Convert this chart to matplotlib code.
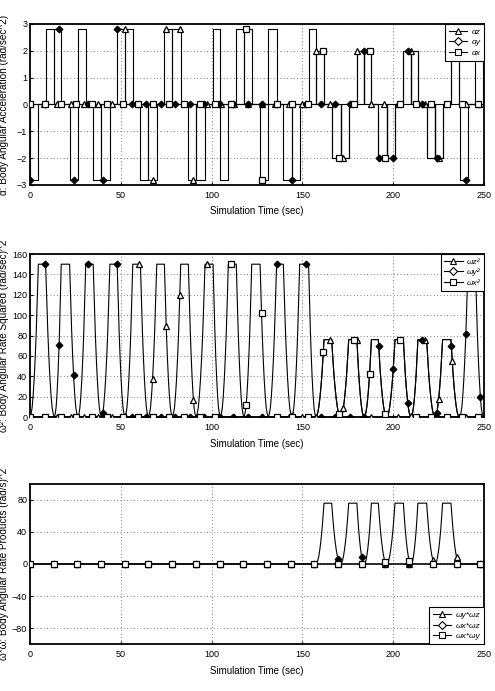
import matplotlib
matplotlib.use("Agg")
import matplotlib.pyplot as plt
import numpy as np
from matplotlib.lines import Line2D

plt.rcParams["font.family"] = ["Liberation Sans", "DejaVu Sans"]

# slew maneuvers (sec): start, end of accel, start of decel, end
MAN_START = [0.0, 13.4, 26.4, 39.3, 52.3, 65.2, 78.4, 91.4, 104.8, 117.8,
             131.2, 144.2, 157.4, 171.0, 184.0, 196.4, 209.8, 223.0, 236.6]
MAN_ACC_END = [4.6, 17.2, 30.7, 44.0, 56.6, 69.8, 83.0, 96.4, 109.2, 122.1,
               135.8, 148.5, 161.9, 175.5, 188.0, 201.0, 213.6, 227.2, 241.2]
MAN_DEC_START = [8.6, 21.8, 34.8, 48.0, 60.8, 74.0, 87.2, 100.8, 113.6, 126.7,
                 139.5, 153.4, 166.1, 180.0, 191.8, 205.6, 218.4, 231.8, 245.2]
MAN_END = [13.4, 26.4, 39.3, 52.3, 65.2, 78.4, 91.4, 104.8, 117.8, 131.2,
           144.2, 157.4, 171.0, 184.0, 196.4, 209.8, 223.0, 236.4, 249.6]
MAN_AXES = ["y", "y", "y", "y", "z", "z", "z", "z", "x", "x",
            "y", "y", "xz", "xz", "xy", "xy", "yz", "yz", "y"]
MAN_SIGN = [-1, 1, 1, -1, 1, -1, 1, -1, -1, 1, 1, -1, 1, -1, 1, -1, 1, -1, -1]
ACC_LEVEL = [2.8, 2.8, 2.8, 2.8, 2.8, 2.8, 2.8, 2.8, 2.8, 2.8,
             2.8, 2.8, 2.0, 2.0, 2.0, 2.0, 2.0, 2.0, 2.8]
RATE_SQ_PEAK = [150, 150, 150, 150, 150, 150, 150, 150, 150, 150,
                150, 150, 76, 76, 76, 76, 76, 76, 150]
PRODUCT_PEAK = [0, 0, 0, 0, 0, 0, 0, 0, 0, 0, 0, 0, 76, 76, 76, 76, 76, 76, 0]

# shape of the rate-squared ramps
RAMP_FRAC = [0.0, 0.125, 0.25, 0.375, 0.5, 0.625, 0.75, 0.875, 1.0]
RAMP_SHAPE = [0.0, 0.02, 0.06, 0.14, 0.25, 0.39, 0.56, 0.77, 1.0]

T_END = 250.0
AXIS_ORDER = ["z", "y", "x"]
MARKERS = {"z": "^", "y": "D", "x": "s"}
MARKER_FACE = {"z": "white", "y": "black", "x": "white"}
MARK_STEP = {"z": 7.5, "y": 8.0, "x": 8.5}
PRODUCT_PAIRS = ["yz", "xz", "xy"]
PRODUCT_MARKER = {"yz": "z", "xz": "y", "xy": "x"}
PRODUCT_MARK_STEP = 13.05

ACC_LABELS = ["αz", "αy", "αx"]
RATE_SQ_LABELS = ["ωz²", "ωy²", "ωx²"]
PRODUCT_LABELS = ["ωy*ωz", "ωx*ωz", "ωx*ωy"]
X_TICKS = [0, 50, 100, 150, 200, 250]


def accel_series(axis):
    t, a = [0.0], [0.0]
    for i, axes in enumerate(MAN_AXES):
        if axis not in axes:
            continue
        s = MAN_SIGN[i] * ACC_LEVEL[i]
        t += [MAN_START[i], MAN_START[i], MAN_ACC_END[i], MAN_ACC_END[i],
              MAN_DEC_START[i], MAN_DEC_START[i], MAN_END[i], MAN_END[i]]
        a += [0, s, s, 0, 0, -s, -s, 0]
    t.append(T_END)
    a.append(0.0)
    return np.array(t), np.array(a)


def hump_series(selected, heights):
    t, v = [0.0], [0.0]
    frac = np.array(RAMP_FRAC)
    shape = np.array(RAMP_SHAPE)
    for i in selected:
        h = heights[i]
        t += list(MAN_START[i] + frac * (MAN_ACC_END[i] - MAN_START[i]))
        v += list(h * shape)
        t += list(MAN_DEC_START[i] + frac * (MAN_END[i] - MAN_DEC_START[i]))
        v += list(h * shape[::-1])
    t.append(T_END)
    v.append(0.0)
    return np.array(t), np.array(v)


def draw_series(ax, t, v, kind, mark_t):
    ax.plot(t, v, color="black", lw=0.8, zorder=3)
    ax.plot(mark_t, np.interp(mark_t, t, v), ls="none", marker=MARKERS[kind],
            ms=4.0 if kind != "y" else 3.4, mfc=MARKER_FACE[kind], mec="black",
            mew=0.9, zorder=4)


def add_legend(ax, labels, loc):
    handles = [Line2D([], [], color="black", lw=0.8, marker=MARKERS[k], ms=4.5,
                      mfc="white", mec="black", mew=0.8) for k in AXIS_ORDER]
    leg = ax.legend(handles, labels, loc=loc, handlelength=2.2,
                    handletextpad=0.5, labelspacing=0.35, borderpad=0.45,
                    borderaxespad=0.0, fancybox=False, framealpha=1.0,
                    edgecolor="black", prop={"style": "italic", "size": 6})
    leg.get_frame().set_linewidth(0.8)
    leg.set_zorder(6)


def style_axes(ax, ylim, yticks, ylabel):
    ax.set_xlim(0, T_END)
    ax.set_ylim(*ylim)
    ax.set_xticks(X_TICKS)
    ax.set_yticks(yticks)
    ax.grid(True, color="0.35", linestyle=(0, (1, 3)), linewidth=0.6)
    ax.tick_params(direction="in", length=2, labelsize=6.5, pad=2)
    ax.tick_params(axis="x", pad=4)
    for sp in ax.spines.values():
        sp.set_linewidth(1.3)
    ax.set_xlabel("Simulation Time (sec)", fontsize=7, labelpad=5)
    ax.set_ylabel(ylabel, fontsize=7.2)
    ax.yaxis.set_label_coords(-0.046, 0.5)


fig = plt.figure(figsize=(4.95, 6.91), dpi=100)
ax1 = fig.add_axes([0.0606, 0.7323, 0.9172, 0.2330])
ax2 = fig.add_axes([0.0606, 0.3965, 0.9172, 0.2359])
ax3 = fig.add_axes([0.0606, 0.0680, 0.9172, 0.2316])

# accelerations
for axis in AXIS_ORDER:
    t, a = accel_series(axis)
    mark_t = np.arange(0, T_END, MARK_STEP[axis])
    draw_series(ax1, t, a, axis, mark_t)
style_axes(ax1, (-3, 3), [-3, -2, -1, 0, 1, 2, 3],
           "α: Body Angular Acceleration (rad/sec^2)")
add_legend(ax1, ACC_LABELS, "upper right")

# rates squared
for axis in AXIS_ORDER:
    sel = [i for i, axes in enumerate(MAN_AXES) if axis in axes]
    t, v = hump_series(sel, RATE_SQ_PEAK)
    mark_t = np.arange(0, T_END, MARK_STEP[axis])
    draw_series(ax2, t, v, axis, mark_t)
style_axes(ax2, (0, 160), list(range(0, 161, 20)),
           "ω²: Body Angular Rate Squared (rad/sec)^2")
add_legend(ax2, RATE_SQ_LABELS, "upper right")

# rate products
for pair in PRODUCT_PAIRS:
    sel = [i for i, axes in enumerate(MAN_AXES) if axes == pair]
    t, v = hump_series(sel, PRODUCT_PEAK)
    mark_t = np.arange(0, T_END, PRODUCT_MARK_STEP)
    draw_series(ax3, t, v, PRODUCT_MARKER[pair], mark_t)
style_axes(ax3, (-100, 100), [-80, -40, 0, 40, 80],
           "ω*ω: Body Angular Rate Products (rad/s)^2")
add_legend(ax3, PRODUCT_LABELS, "lower right")

fig.savefig("out.png", dpi=100)
